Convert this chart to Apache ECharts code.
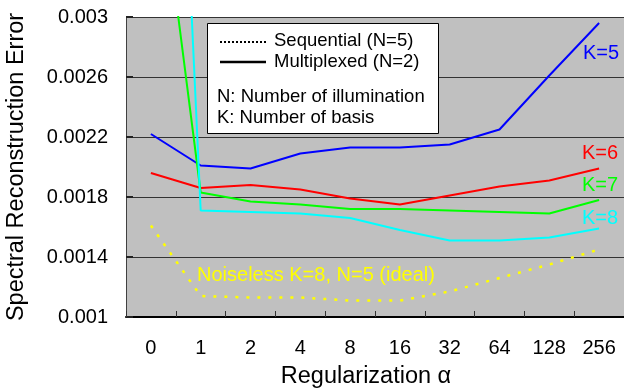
<!DOCTYPE html>
<html>
<head>
<meta charset="utf-8">
<script src="https://cdn.jsdelivr.net/npm/echarts@6/dist/echarts.min.js"></script>
<style>html,body{margin:0;padding:0;background:#fff;}#c{width:624px;height:391px;}</style>
</head>
<body>
<div id="c"></div>
<script>
// ---- data ----
var categories = ['0', '1', '2', '4', '8', '16', '32', '64', '128', '256'];
var k5 = [0.00222, 0.00201, 0.00199, 0.00209, 0.00213, 0.00213, 0.00215, 0.00225, 0.00261, 0.00296];
var k6 = [0.00196, 0.00186, 0.00188, 0.00185, 0.00179, 0.00175, 0.00181, 0.00187, 0.00191, 0.00199];
var k7 = [0.00443, 0.00183, 0.00177, 0.00175, 0.00172, 0.00172, 0.00171, 0.00170, 0.00169, 0.00178];
var k8 = [0.00890, 0.00171, 0.00170, 0.00169, 0.00166, 0.00158, 0.00151, 0.00151, 0.00153, 0.00159];
var ideal = [0.00161, 0.00114, 0.00113, 0.00113, 0.00111, 0.00111, 0.00117, 0.00126, 0.00135, 0.00145];
var yTicks = [0.001, 0.0014, 0.0018, 0.0022, 0.0026, 0.003];

// axis is drawn relative to the lowest tick so that ticks start at a multiple of the interval
var BASE = yTicks[0];
var STEP = yTicks[1] - yTicks[0];
var TOP = yTicks[yTicks.length - 1];
function shift(arr) { return arr.map(function (v) { return +(v - BASE).toFixed(7); }); }

var FONT = 'Liberation Sans, Arial, sans-serif';
var chart = echarts.init(document.getElementById('c'), null, { renderer: 'canvas' });

function lineSeries(name, arr, color, dashed) {
  return {
    name: name, type: 'line', data: shift(arr), symbol: 'none', clip: true,
    lineStyle: { color: color, width: dashed ? 2.5 : 2, type: dashed ? [3, 8] : 'solid', cap: 'butt' },
    z: dashed ? 2 : 3, animation: false
  };
}

chart.setOption({
  backgroundColor: '#ffffff',
  animation: false,
  grid: { left: 126, top: 17, width: 502, height: 300, show: true, backgroundColor: '#c0c0c0', borderWidth: 0 },
  xAxis: {
    type: 'category', data: categories, boundaryGap: true,
    axisLine: { show: true, lineStyle: { color: '#000', width: 2 } },
    axisTick: { show: true, inside: true, length: 6, lineStyle: { color: '#333', width: 1 } },
    axisLabel: { color: '#000', fontFamily: FONT, fontSize: 20, margin: 21 },
    splitLine: { show: false }
  },
  yAxis: {
    type: 'value', min: 0, max: +(TOP - BASE).toFixed(7), interval: +STEP.toFixed(7),
    axisLine: { show: true, lineStyle: { color: '#404040', width: 1 } },
    axisTick: { show: true, inside: true, length: 7, lineStyle: { color: '#222', width: 2 } },
    axisLabel: {
      color: '#000', fontFamily: FONT, fontSize: 20, margin: 18,
      formatter: function (v) { return String(+(v + BASE).toFixed(4)); }
    },
    splitLine: { show: true, lineStyle: { color: '#333', width: 1 } }
  },
  series: [
    lineSeries('Noiseless', ideal, '#ffff00', true),
    lineSeries('K=5', k5, '#0000ff', false),
    lineSeries('K=6', k6, '#ff0000', false),
    lineSeries('K=7', k7, '#00ff00', false),
    lineSeries('K=8', k8, '#00ffff', false)
  ],
  graphic: [
    { type: 'text', x: 17, y: 167, rotation: Math.PI / 2,
      style: { text: 'Spectral Reconstruction Error', font: '23.5px ' + FONT, fill: '#000', align: 'center', verticalAlign: 'middle' } },
    { type: 'text', x: 366, y: 377,
      style: { text: 'Regularization \u03b1', font: '23.5px ' + FONT, fill: '#000', align: 'center', verticalAlign: 'middle' } },
    { type: 'rect', shape: { x: 207.5, y: 23.5, width: 231, height: 110 },
      style: { fill: '#fff', stroke: '#000', lineWidth: 1 }, z: 10 },
    { type: 'line', shape: { x1: 220, y1: 42, x2: 266, y2: 42 },
      style: { stroke: '#000', lineWidth: 2, lineDash: [2, 2] }, z: 11 },
    { type: 'line', shape: { x1: 220, y1: 62, x2: 266, y2: 62 },
      style: { stroke: '#000', lineWidth: 2.5 }, z: 11 },
    { type: 'text', x: 274, y: 41, z: 11,
      style: { text: 'Sequential (N=5)', font: '18.5px ' + FONT, fill: '#000', verticalAlign: 'middle' } },
    { type: 'text', x: 274, y: 62, z: 11,
      style: { text: 'Multiplexed (N=2)', font: '18.5px ' + FONT, fill: '#000', verticalAlign: 'middle' } },
    { type: 'text', x: 217, y: 97, z: 11,
      style: { text: 'N: Number of illumination', font: '18.5px ' + FONT, fill: '#000', verticalAlign: 'middle' } },
    { type: 'text', x: 217, y: 118, z: 11,
      style: { text: 'K: Number of basis', font: '18.5px ' + FONT, fill: '#000', verticalAlign: 'middle' } },
    { type: 'text', x: 583, y: 53, z: 11,
      style: { text: 'K=5', font: '20px ' + FONT, fill: '#0000ff', verticalAlign: 'middle' } },
    { type: 'text', x: 582, y: 153, z: 11,
      style: { text: 'K=6', font: '20px ' + FONT, fill: '#ff0000', verticalAlign: 'middle' } },
    { type: 'text', x: 582, y: 185, z: 11,
      style: { text: 'K=7', font: '20px ' + FONT, fill: '#00ff00', verticalAlign: 'middle' } },
    { type: 'text', x: 582, y: 218, z: 11,
      style: { text: 'K=8', font: '20px ' + FONT, fill: '#00ffff', verticalAlign: 'middle' } },
    { type: 'text', x: 197, y: 275, z: 11,
      style: { text: 'Noiseless K=8, N=5 (ideal)', font: '20px ' + FONT, fill: '#ffff00', verticalAlign: 'middle' } }
  ]
});
</script>
</body>
</html>
